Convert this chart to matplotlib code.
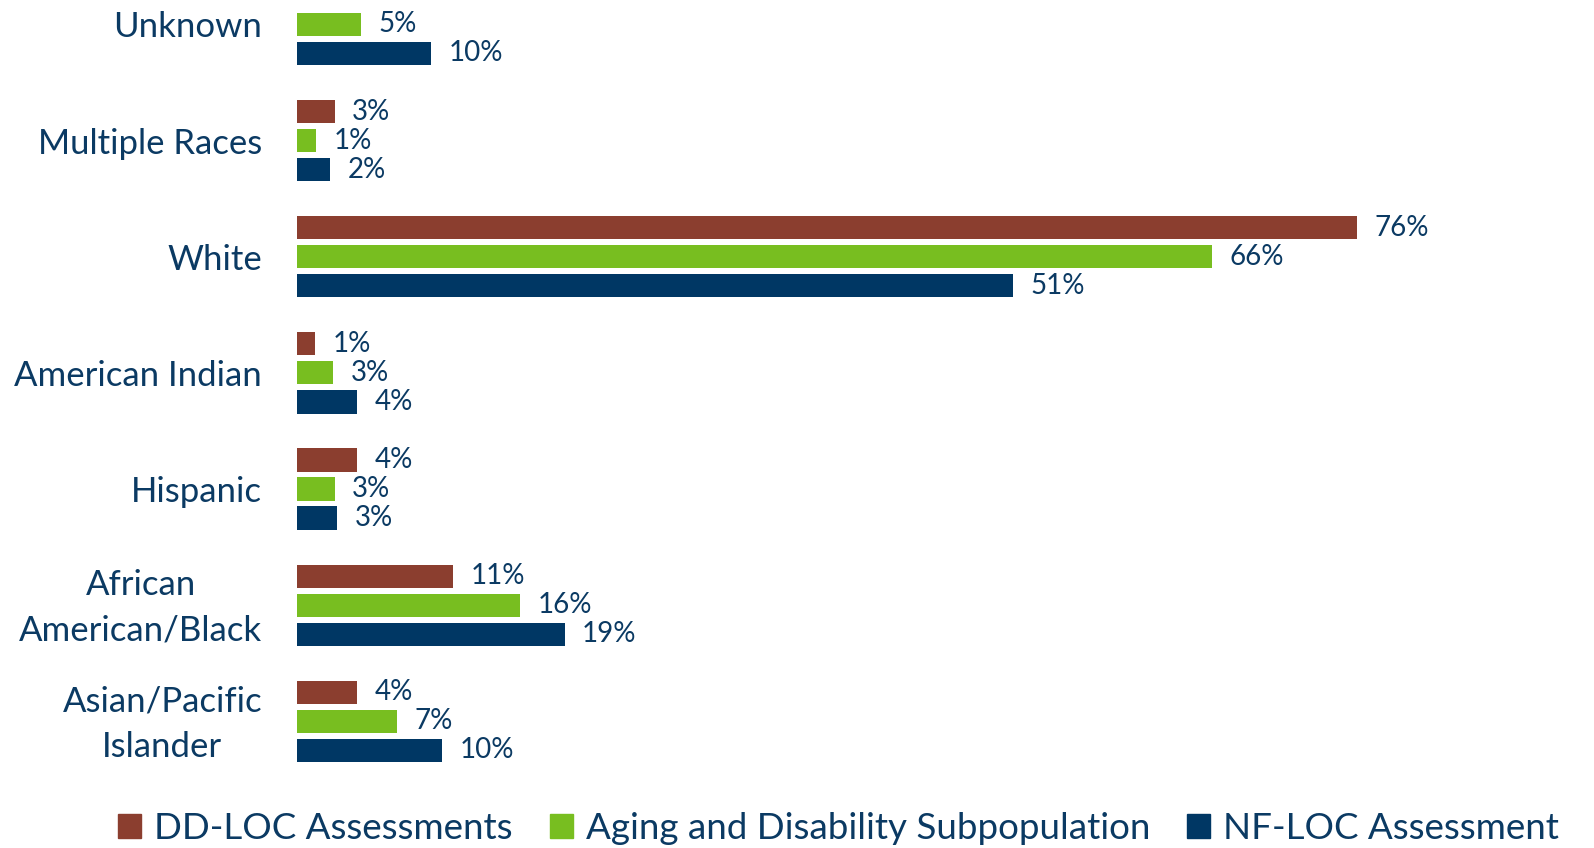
import numpy as np
import matplotlib
matplotlib.use("Agg")
import matplotlib.pyplot as plt
from matplotlib.patches import Patch
from matplotlib.transforms import ScaledTranslation

plt.rcParams['font.family'] = ['Lato', 'DejaVu Sans']

# data, bottom to top as the chart draws them
categories = ['Asian/Pacific\nIslander', 'African\nAmerican/Black', 'Hispanic',
              'American Indian', 'White', 'Multiple Races', 'Unknown']
dd_loc = [4.3, 11.2, 4.3, 1.3, 76.0, 2.7, np.nan]
aging = [7.2, 16.0, 2.7, 2.6, 65.6, 1.4, 4.6]
nf_loc = [10.4, 19.2, 2.9, 4.3, 51.3, 2.4, 9.6]
series_names = ['DD-LOC Assessments', 'Aging and Disability Subpopulation', 'NF-LOC Assessment']

BROWN = '#8B3E2F'
GREEN = '#78BE20'
NAVY = '#003764'
TEXT = '#0B3A63'

fig = plt.figure(figsize=(15.94, 8.48), dpi=100)
ax = fig.add_axes([0.1863, 0.0809, 0.974 - 0.1863, 0.9177])

y = np.arange(len(categories))
step = 0.25
bar_h = 0.2
for vals, off, col in [(dd_loc, step, BROWN), (aging, 0, GREEN), (nf_loc, -step, NAVY)]:
    ax.barh(y + off, vals, height=bar_h, color=col)
    for yi, v in zip(y, vals):
        if np.isnan(v):
            continue
        ax.annotate(f'{v:.0f}%', (v, yi + off), xytext=(12.5, 0), textcoords='offset points',
                    va='center', ha='left', fontsize=20, color=TEXT)

ax.set_xlim(0, 90)
ax.set_ylim(-0.5, 6.2)
ax.set_yticks(y)
ax.set_yticklabels(categories, fontsize=25, color=TEXT)
ax.tick_params(axis='y', length=0, pad=25)
# two-line labels sit a little higher in the original
lift = ScaledTranslation(0, 0.07, fig.dpi_scale_trans)
for lbl in ax.get_yticklabels():
    lbl.set_multialignment('center')
    lbl.set_linespacing(1.52)
    if '\n' in lbl.get_text():
        lbl.set_transform(lbl.get_transform() + lift)
ax.set_xticks([])
for s in ax.spines.values():
    s.set_visible(False)

handles = [Patch(color=c) for c in (BROWN, GREEN, NAVY)]
leg = fig.legend(handles, series_names, loc='center', bbox_to_anchor=(0.526, 0.023),
                 ncol=3, frameon=False, fontsize=26.5, handlelength=0.63, handleheight=0.63,
                 handletextpad=0.35, columnspacing=1.0, borderaxespad=0, borderpad=0)
for t in leg.get_texts():
    t.set_color(TEXT)

fig.savefig('out.png', dpi=100)
